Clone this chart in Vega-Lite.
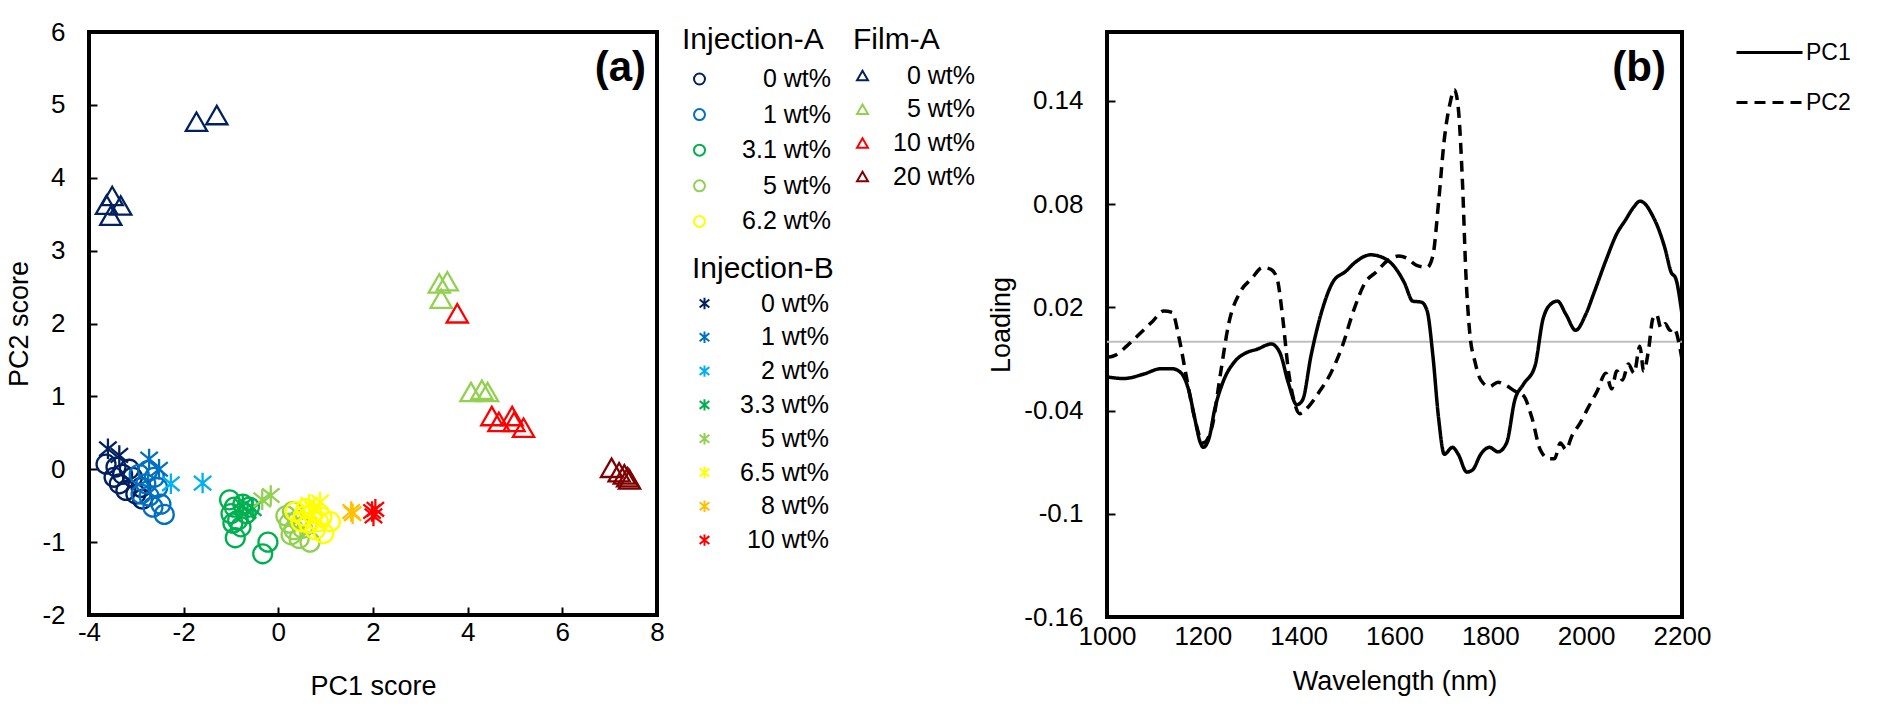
{
  "$schema": "https://vega.github.io/schema/vega-lite/v6.json",
  "background": "white",
  "padding": {"left": 3, "top": 17, "right": 0, "bottom": 0},
  "datasets": {
    "scores": [
      {"s": "Injection-A", "c": "0 wt%", "x": -3.64, "y": 0.07},
      {"s": "Injection-A", "c": "0 wt%", "x": -3.43, "y": 0.03},
      {"s": "Injection-A", "c": "0 wt%", "x": -3.29, "y": -0.07},
      {"s": "Injection-A", "c": "0 wt%", "x": -3.36, "y": -0.2},
      {"s": "Injection-A", "c": "0 wt%", "x": -3.22, "y": -0.29},
      {"s": "Injection-A", "c": "0 wt%", "x": -3.08, "y": -0.11},
      {"s": "Injection-A", "c": "0 wt%", "x": -3.01, "y": -0.34},
      {"s": "Injection-A", "c": "0 wt%", "x": -2.87, "y": -0.41},
      {"s": "Injection-A", "c": "0 wt%", "x": -3.15, "y": 0.0},
      {"s": "Injection-A", "c": "0 wt%", "x": -2.9, "y": -0.25},
      {"s": "Injection-A", "c": "0 wt%", "x": -3.47, "y": -0.11},
      {"s": "Injection-A", "c": "1 wt%", "x": -2.94, "y": -0.07},
      {"s": "Injection-A", "c": "1 wt%", "x": -2.76, "y": -0.02},
      {"s": "Injection-A", "c": "1 wt%", "x": -2.62, "y": -0.11},
      {"s": "Injection-A", "c": "1 wt%", "x": -2.8, "y": -0.2},
      {"s": "Injection-A", "c": "1 wt%", "x": -2.55, "y": -0.25},
      {"s": "Injection-A", "c": "1 wt%", "x": -2.73, "y": -0.37},
      {"s": "Injection-A", "c": "1 wt%", "x": -2.48, "y": -0.48},
      {"s": "Injection-A", "c": "1 wt%", "x": -2.41, "y": -0.62},
      {"s": "Injection-A", "c": "1 wt%", "x": -2.65, "y": -0.52},
      {"s": "Injection-A", "c": "1 wt%", "x": -2.9, "y": -0.34},
      {"s": "Injection-A", "c": "3.1 wt%", "x": -1.03, "y": -0.42},
      {"s": "Injection-A", "c": "3.1 wt%", "x": -0.93, "y": -0.52},
      {"s": "Injection-A", "c": "3.1 wt%", "x": -0.75, "y": -0.48},
      {"s": "Injection-A", "c": "3.1 wt%", "x": -1.0, "y": -0.61},
      {"s": "Injection-A", "c": "3.1 wt%", "x": -0.68, "y": -0.61},
      {"s": "Injection-A", "c": "3.1 wt%", "x": -0.86, "y": -0.7},
      {"s": "Injection-A", "c": "3.1 wt%", "x": -0.79, "y": -0.79},
      {"s": "Injection-A", "c": "3.1 wt%", "x": -0.96, "y": -0.74},
      {"s": "Injection-A", "c": "3.1 wt%", "x": -0.91, "y": -0.94},
      {"s": "Injection-A", "c": "3.1 wt%", "x": -0.22, "y": -1.0},
      {"s": "Injection-A", "c": "3.1 wt%", "x": -0.33, "y": -1.16},
      {"s": "Injection-A", "c": "3.1 wt%", "x": -0.61, "y": -0.52},
      {"s": "Injection-A", "c": "5 wt%", "x": 0.16, "y": -0.64},
      {"s": "Injection-A", "c": "5 wt%", "x": 0.23, "y": -0.74},
      {"s": "Injection-A", "c": "5 wt%", "x": 0.33, "y": -0.83},
      {"s": "Injection-A", "c": "5 wt%", "x": 0.44, "y": -0.95},
      {"s": "Injection-A", "c": "5 wt%", "x": 0.41, "y": -0.7},
      {"s": "Injection-A", "c": "5 wt%", "x": 0.51, "y": -0.81},
      {"s": "Injection-A", "c": "5 wt%", "x": 0.3, "y": -0.58},
      {"s": "Injection-A", "c": "5 wt%", "x": 0.62, "y": -0.74},
      {"s": "Injection-A", "c": "5 wt%", "x": 0.27, "y": -0.9},
      {"s": "Injection-A", "c": "5 wt%", "x": 0.67, "y": -1.0},
      {"s": "Injection-A", "c": "6.2 wt%", "x": 0.36, "y": -0.58},
      {"s": "Injection-A", "c": "6.2 wt%", "x": 0.53, "y": -0.64},
      {"s": "Injection-A", "c": "6.2 wt%", "x": 0.71, "y": -0.61},
      {"s": "Injection-A", "c": "6.2 wt%", "x": 0.85, "y": -0.72},
      {"s": "Injection-A", "c": "6.2 wt%", "x": 0.64, "y": -0.74},
      {"s": "Injection-A", "c": "6.2 wt%", "x": 0.78, "y": -0.83},
      {"s": "Injection-A", "c": "6.2 wt%", "x": 0.92, "y": -0.66},
      {"s": "Injection-A", "c": "6.2 wt%", "x": 0.48, "y": -0.72},
      {"s": "Injection-A", "c": "6.2 wt%", "x": 0.59, "y": -0.54},
      {"s": "Injection-A", "c": "6.2 wt%", "x": 1.1, "y": -0.72},
      {"s": "Injection-A", "c": "6.2 wt%", "x": 0.96, "y": -0.88},
      {"s": "Injection-B", "c": "0 wt%", "x": -3.6, "y": 0.28},
      {"s": "Injection-B", "c": "0 wt%", "x": -3.36, "y": 0.19},
      {"s": "Injection-B", "c": "1 wt%", "x": -2.73, "y": 0.14},
      {"s": "Injection-B", "c": "1 wt%", "x": -2.52, "y": 0.0},
      {"s": "Injection-B", "c": "2 wt%", "x": -2.27, "y": -0.2},
      {"s": "Injection-B", "c": "2 wt%", "x": -1.6, "y": -0.19},
      {"s": "Injection-B", "c": "3.3 wt%", "x": -0.75, "y": -0.5},
      {"s": "Injection-B", "c": "3.3 wt%", "x": -0.65, "y": -0.58},
      {"s": "Injection-B", "c": "3.3 wt%", "x": -0.54, "y": -0.54},
      {"s": "Injection-B", "c": "5 wt%", "x": -0.34, "y": -0.42},
      {"s": "Injection-B", "c": "5 wt%", "x": -0.16, "y": -0.36},
      {"s": "Injection-B", "c": "6.5 wt%", "x": 0.65, "y": -0.48},
      {"s": "Injection-B", "c": "6.5 wt%", "x": 0.88, "y": -0.45},
      {"s": "Injection-B", "c": "6.5 wt%", "x": 0.75, "y": -0.55},
      {"s": "Injection-B", "c": "8 wt%", "x": 1.54, "y": -0.58},
      {"s": "Injection-B", "c": "8 wt%", "x": 1.57, "y": -0.61},
      {"s": "Injection-B", "c": "10 wt%", "x": 1.98, "y": -0.58},
      {"s": "Injection-B", "c": "10 wt%", "x": 2.05, "y": -0.55},
      {"s": "Injection-B", "c": "10 wt%", "x": 2.01, "y": -0.64},
      {"s": "Film-A", "c": "0 wt%", "x": -1.73, "y": 4.77},
      {"s": "Film-A", "c": "0 wt%", "x": -1.3, "y": 4.86},
      {"s": "Film-A", "c": "0 wt%", "x": -3.51, "y": 3.75},
      {"s": "Film-A", "c": "0 wt%", "x": -3.63, "y": 3.63},
      {"s": "Film-A", "c": "0 wt%", "x": -3.33, "y": 3.62},
      {"s": "Film-A", "c": "0 wt%", "x": -3.54, "y": 3.48},
      {"s": "Film-A", "c": "5 wt%", "x": 3.4, "y": 2.55},
      {"s": "Film-A", "c": "5 wt%", "x": 3.57, "y": 2.58},
      {"s": "Film-A", "c": "5 wt%", "x": 3.44, "y": 2.34},
      {"s": "Film-A", "c": "5 wt%", "x": 4.07, "y": 1.06},
      {"s": "Film-A", "c": "5 wt%", "x": 4.3, "y": 1.09},
      {"s": "Film-A", "c": "5 wt%", "x": 4.42, "y": 1.06},
      {"s": "Film-A", "c": "10 wt%", "x": 3.78, "y": 2.14},
      {"s": "Film-A", "c": "10 wt%", "x": 4.51, "y": 0.73},
      {"s": "Film-A", "c": "10 wt%", "x": 4.66, "y": 0.65},
      {"s": "Film-A", "c": "10 wt%", "x": 4.94, "y": 0.73},
      {"s": "Film-A", "c": "10 wt%", "x": 4.98, "y": 0.65},
      {"s": "Film-A", "c": "10 wt%", "x": 5.18, "y": 0.57},
      {"s": "Film-A", "c": "20 wt%", "x": 7.04, "y": 0.02},
      {"s": "Film-A", "c": "20 wt%", "x": 7.2, "y": -0.04},
      {"s": "Film-A", "c": "20 wt%", "x": 7.31, "y": -0.07},
      {"s": "Film-A", "c": "20 wt%", "x": 7.38, "y": -0.11},
      {"s": "Film-A", "c": "20 wt%", "x": 7.42, "y": -0.14}
    ],
    "loadings": [
      {"pc": "PC1", "w": 1000, "v": -0.0204},
      {"pc": "PC1", "w": 1035, "v": -0.0214},
      {"pc": "PC1", "w": 1077, "v": -0.0188},
      {"pc": "PC1", "w": 1112, "v": -0.0157},
      {"pc": "PC1", "w": 1136, "v": -0.0157},
      {"pc": "PC1", "w": 1154, "v": -0.018},
      {"pc": "PC1", "w": 1171, "v": -0.0287},
      {"pc": "PC1", "w": 1183, "v": -0.0444},
      {"pc": "PC1", "w": 1195, "v": -0.0588},
      {"pc": "PC1", "w": 1201, "v": -0.0614},
      {"pc": "PC1", "w": 1213, "v": -0.056},
      {"pc": "PC1", "w": 1225, "v": -0.039},
      {"pc": "PC1", "w": 1242, "v": -0.0235},
      {"pc": "PC1", "w": 1266, "v": -0.0117},
      {"pc": "PC1", "w": 1290, "v": -0.0065},
      {"pc": "PC1", "w": 1313, "v": -0.0044},
      {"pc": "PC1", "w": 1343, "v": -0.0013},
      {"pc": "PC1", "w": 1361, "v": -0.0065},
      {"pc": "PC1", "w": 1378, "v": -0.0235},
      {"pc": "PC1", "w": 1396, "v": -0.0366},
      {"pc": "PC1", "w": 1408, "v": -0.034},
      {"pc": "PC1", "w": 1426, "v": -0.0078},
      {"pc": "PC1", "w": 1449, "v": 0.0184},
      {"pc": "PC1", "w": 1473, "v": 0.0354},
      {"pc": "PC1", "w": 1497, "v": 0.0406},
      {"pc": "PC1", "w": 1520, "v": 0.0466},
      {"pc": "PC1", "w": 1550, "v": 0.0505},
      {"pc": "PC1", "w": 1573, "v": 0.0492},
      {"pc": "PC1", "w": 1597, "v": 0.0445},
      {"pc": "PC1", "w": 1621, "v": 0.034},
      {"pc": "PC1", "w": 1638, "v": 0.0236},
      {"pc": "PC1", "w": 1656, "v": 0.023},
      {"pc": "PC1", "w": 1668, "v": 0.018},
      {"pc": "PC1", "w": 1680, "v": -0.0078},
      {"pc": "PC1", "w": 1692, "v": -0.0444},
      {"pc": "PC1", "w": 1704, "v": -0.0654},
      {"pc": "PC1", "w": 1721, "v": -0.0614},
      {"pc": "PC1", "w": 1733, "v": -0.0654},
      {"pc": "PC1", "w": 1751, "v": -0.0758},
      {"pc": "PC1", "w": 1763, "v": -0.0745},
      {"pc": "PC1", "w": 1780, "v": -0.0654},
      {"pc": "PC1", "w": 1798, "v": -0.0614},
      {"pc": "PC1", "w": 1816, "v": -0.064},
      {"pc": "PC1", "w": 1834, "v": -0.0588},
      {"pc": "PC1", "w": 1851, "v": -0.034},
      {"pc": "PC1", "w": 1869, "v": -0.0248},
      {"pc": "PC1", "w": 1893, "v": -0.0143},
      {"pc": "PC1", "w": 1910, "v": 0.0132},
      {"pc": "PC1", "w": 1928, "v": 0.0223},
      {"pc": "PC1", "w": 1940, "v": 0.0236},
      {"pc": "PC1", "w": 1958, "v": 0.0158},
      {"pc": "PC1", "w": 1978, "v": 0.0066},
      {"pc": "PC1", "w": 1999, "v": 0.0158},
      {"pc": "PC1", "w": 2017, "v": 0.0289},
      {"pc": "PC1", "w": 2041, "v": 0.0471},
      {"pc": "PC1", "w": 2064, "v": 0.0628},
      {"pc": "PC1", "w": 2082, "v": 0.0707},
      {"pc": "PC1", "w": 2100, "v": 0.0785},
      {"pc": "PC1", "w": 2112, "v": 0.0817},
      {"pc": "PC1", "w": 2124, "v": 0.0798},
      {"pc": "PC1", "w": 2136, "v": 0.0746},
      {"pc": "PC1", "w": 2153, "v": 0.0641},
      {"pc": "PC1", "w": 2165, "v": 0.0537},
      {"pc": "PC1", "w": 2177, "v": 0.0406},
      {"pc": "PC1", "w": 2187, "v": 0.0367},
      {"pc": "PC1", "w": 2200, "v": 0.0158},
      {"pc": "PC2", "w": 1000, "v": -0.0091},
      {"pc": "PC2", "w": 1018, "v": -0.0078},
      {"pc": "PC2", "w": 1041, "v": -0.0026},
      {"pc": "PC2", "w": 1071, "v": 0.0053},
      {"pc": "PC2", "w": 1095, "v": 0.0118},
      {"pc": "PC2", "w": 1118, "v": 0.0178},
      {"pc": "PC2", "w": 1136, "v": 0.017},
      {"pc": "PC2", "w": 1150, "v": 0.0027},
      {"pc": "PC2", "w": 1166, "v": -0.0209},
      {"pc": "PC2", "w": 1183, "v": -0.0444},
      {"pc": "PC2", "w": 1201, "v": -0.0588},
      {"pc": "PC2", "w": 1219, "v": -0.0496},
      {"pc": "PC2", "w": 1237, "v": -0.0183},
      {"pc": "PC2", "w": 1254, "v": 0.0105},
      {"pc": "PC2", "w": 1278, "v": 0.0289},
      {"pc": "PC2", "w": 1302, "v": 0.0367},
      {"pc": "PC2", "w": 1325, "v": 0.0432},
      {"pc": "PC2", "w": 1343, "v": 0.0419},
      {"pc": "PC2", "w": 1355, "v": 0.0367},
      {"pc": "PC2", "w": 1367, "v": 0.0132},
      {"pc": "PC2", "w": 1378, "v": -0.0157},
      {"pc": "PC2", "w": 1390, "v": -0.034},
      {"pc": "PC2", "w": 1402, "v": -0.0418},
      {"pc": "PC2", "w": 1420, "v": -0.0379},
      {"pc": "PC2", "w": 1444, "v": -0.0287},
      {"pc": "PC2", "w": 1467, "v": -0.0183},
      {"pc": "PC2", "w": 1491, "v": -0.0026},
      {"pc": "PC2", "w": 1515, "v": 0.0184},
      {"pc": "PC2", "w": 1538, "v": 0.034},
      {"pc": "PC2", "w": 1562, "v": 0.0406},
      {"pc": "PC2", "w": 1586, "v": 0.0472},
      {"pc": "PC2", "w": 1609, "v": 0.0498},
      {"pc": "PC2", "w": 1627, "v": 0.0484},
      {"pc": "PC2", "w": 1645, "v": 0.0445},
      {"pc": "PC2", "w": 1668, "v": 0.0432},
      {"pc": "PC2", "w": 1680, "v": 0.0498},
      {"pc": "PC2", "w": 1692, "v": 0.0811},
      {"pc": "PC2", "w": 1704, "v": 0.1178},
      {"pc": "PC2", "w": 1716, "v": 0.1387},
      {"pc": "PC2", "w": 1725, "v": 0.1465},
      {"pc": "PC2", "w": 1733, "v": 0.1361},
      {"pc": "PC2", "w": 1742, "v": 0.0916},
      {"pc": "PC2", "w": 1749, "v": 0.0393},
      {"pc": "PC2", "w": 1757, "v": 0.0053},
      {"pc": "PC2", "w": 1768, "v": -0.0117},
      {"pc": "PC2", "w": 1780, "v": -0.0222},
      {"pc": "PC2", "w": 1798, "v": -0.0261},
      {"pc": "PC2", "w": 1816, "v": -0.0235},
      {"pc": "PC2", "w": 1834, "v": -0.0256},
      {"pc": "PC2", "w": 1851, "v": -0.0287},
      {"pc": "PC2", "w": 1869, "v": -0.0313},
      {"pc": "PC2", "w": 1887, "v": -0.0444},
      {"pc": "PC2", "w": 1904, "v": -0.0627},
      {"pc": "PC2", "w": 1922, "v": -0.068},
      {"pc": "PC2", "w": 1934, "v": -0.068},
      {"pc": "PC2", "w": 1946, "v": -0.0588},
      {"pc": "PC2", "w": 1958, "v": -0.0627},
      {"pc": "PC2", "w": 1970, "v": -0.0549},
      {"pc": "PC2", "w": 1988, "v": -0.047},
      {"pc": "PC2", "w": 2005, "v": -0.0379},
      {"pc": "PC2", "w": 2023, "v": -0.0287},
      {"pc": "PC2", "w": 2041, "v": -0.0183},
      {"pc": "PC2", "w": 2053, "v": -0.0274},
      {"pc": "PC2", "w": 2064, "v": -0.017},
      {"pc": "PC2", "w": 2076, "v": -0.0222},
      {"pc": "PC2", "w": 2088, "v": -0.013},
      {"pc": "PC2", "w": 2100, "v": -0.0183},
      {"pc": "PC2", "w": 2112, "v": -0.0026},
      {"pc": "PC2", "w": 2120, "v": -0.017},
      {"pc": "PC2", "w": 2130, "v": -0.0052},
      {"pc": "PC2", "w": 2139, "v": 0.0132},
      {"pc": "PC2", "w": 2147, "v": 0.0158},
      {"pc": "PC2", "w": 2156, "v": 0.0079},
      {"pc": "PC2", "w": 2165, "v": 0.0105},
      {"pc": "PC2", "w": 2175, "v": 0.0066},
      {"pc": "PC2", "w": 2183, "v": 0.0079},
      {"pc": "PC2", "w": 2195, "v": -0.0026},
      {"pc": "PC2", "w": 2200, "v": -0.0104}
    ],
    "tagsA": [{"t": "(a)"}],
    "tagsB": [{"t": "(b)"}],
    "zero": [{"z": 0}]
  },
  "hconcat": [
    {
      "width": 568,
      "height": 583,
      "layer": [
        {
          "data": {"name": "scores"},
          "transform": [{"filter": "datum.s === 'Injection-A'"}],
          "mark": {"type": "point", "shape": "circle", "filled": false, "size": 360, "strokeWidth": 2.3, "opacity": 1},
          "encoding": {
            "x": {"field": "x", "type": "quantitative", "scale": {"domain": [-4, 8], "nice": false, "zero": false},
              "axis": {"values": [-4, -2, 0, 2, 4, 6, 8], "title": "PC1 score", "tickSize": -8, "labelPadding": 12, "titlePadding": 28, "labelFlush": false, "labelOverlap": false, "format": "~g", "labelExpr": "replace(datum.label, '\u2212', '-')"}},
            "y": {"field": "y", "type": "quantitative", "scale": {"domain": [-2, 6], "nice": false, "zero": false},
              "axis": {"values": [-2, -1, 0, 1, 2, 3, 4, 5, 6], "title": "PC2 score", "tickSize": -8, "labelPadding": 32, "titlePadding": 8, "labelFlush": false, "labelOverlap": false, "format": "~g", "labelExpr": "replace(datum.label, '\u2212', '-')"}},
            "color": {"field": "c", "type": "nominal",
              "scale": {"domain": ["0 wt%", "1 wt%", "3.1 wt%", "5 wt%", "6.2 wt%"], "range": ["#002060", "#0070C0", "#00B050", "#92D050", "#FFFF00"]},
              "legend": {"title": "Injection-A", "orient": "none", "legendX": 593, "legendY": -7, "symbolType": "circle", "symbolSize": 120, "symbolStrokeWidth": 2, "symbolOffset": 5, "labelAlign": "right", "labelOffset": 119, "rowPadding": 9.6, "titlePadding": 11.5}}
          }
        },
        {
          "data": {"name": "scores"},
          "transform": [{"filter": "datum.s === 'Injection-B'"}],
          "mark": {"type": "point", "shape": "M0,-1L0,1M-0.85,-0.7L0.85,0.7M-0.85,0.7L0.85,-0.7", "filled": false, "size": 420, "strokeWidth": 2.3, "opacity": 1},
          "encoding": {
            "x": {"field": "x", "type": "quantitative"},
            "y": {"field": "y", "type": "quantitative"},
            "color": {"field": "c", "type": "nominal",
              "scale": {"domain": ["0 wt%", "1 wt%", "2 wt%", "3.3 wt%", "5 wt%", "6.5 wt%", "8 wt%", "10 wt%"], "range": ["#002060", "#0070C0", "#00B0F0", "#00B050", "#92D050", "#FFFF00", "#FFC000", "#FF0000"]},
              "legend": {"title": "Injection-B", "orient": "none", "legendX": 603, "legendY": 222, "symbolType": "M0,-1L0,1M-0.85,-0.7L0.85,0.7M-0.85,0.7L0.85,-0.7", "symbolSize": 130, "symbolStrokeWidth": 2, "symbolOffset": 0, "labelAlign": "right", "labelOffset": 112, "rowPadding": 7.8, "titlePadding": 7}}
          }
        },
        {
          "data": {"name": "scores"},
          "transform": [{"filter": "datum.s === 'Film-A'"}],
          "mark": {"type": "point", "shape": "triangle-up", "filled": false, "size": 450, "strokeWidth": 2.3, "opacity": 1},
          "encoding": {
            "x": {"field": "x", "type": "quantitative"},
            "y": {"field": "y", "type": "quantitative"},
            "color": {"field": "c", "type": "nominal",
              "scale": {"domain": ["0 wt%", "5 wt%", "10 wt%", "20 wt%"], "range": ["#002060", "#92D050", "#FF0000", "#7F0000"]},
              "legend": {"title": "Film-A", "orient": "none", "legendX": 764, "legendY": -7, "symbolType": "triangle-up", "symbolSize": 120, "symbolStrokeWidth": 2, "symbolOffset": -3, "labelAlign": "right", "labelOffset": 100, "rowPadding": 7.7, "titlePadding": 8}}
          }
        },
        {
          "data": {"name": "tagsA"},
          "mark": {"type": "text", "align": "right", "baseline": "alphabetic", "dx": -11, "dy": 49, "fontSize": 42, "fontWeight": "bold", "font": "Liberation Sans", "color": "#000"},
          "encoding": {
            "x": {"datum": 8, "type": "quantitative"},
            "y": {"datum": 6, "type": "quantitative"},
            "text": {"field": "t"}
          }
        }
      ],
      "resolve": {"scale": {"color": "independent"}, "legend": {"color": "independent"}}
    },
    {
      "width": 575,
      "height": 585,
      "layer": [
        {
          "data": {"name": "zero"},
          "mark": {"type": "rule", "color": "#BFBFBF", "strokeWidth": 2},
          "encoding": {
            "y": {"field": "z", "type": "quantitative"}
          }
        },
        {
          "data": {"name": "loadings"},
          "mark": {"type": "line", "color": "#000", "strokeWidth": 3.5, "interpolate": "monotone"},
          "encoding": {
            "x": {"field": "w", "type": "quantitative", "scale": {"domain": [1000, 2200], "nice": false, "zero": false},
              "axis": {"values": [1000, 1200, 1400, 1600, 1800, 2000, 2200], "title": "Wavelength (nm)", "ticks": false, "labelPadding": 6, "titlePadding": 19, "labelFlush": false, "labelOverlap": false, "format": "d"}},
            "y": {"field": "v", "type": "quantitative", "scale": {"domain": [-0.16, 0.18], "nice": false, "zero": false},
              "axis": {"values": [-0.16, -0.1, -0.04, 0.02, 0.08, 0.14], "title": "Loading", "tickSize": -8, "labelPadding": 32, "titlePadding": 8, "labelFlush": false, "labelOverlap": false, "format": "~g", "labelExpr": "replace(datum.label, '\u2212', '-')"}},
            "strokeDash": {"field": "pc", "type": "nominal",
              "scale": {"domain": ["PC1", "PC2"], "range": [[1, 0], [11, 7]]},
              "legend": {"title": null, "orient": "none", "legendX": 1646, "legendY": -14, "symbolType": "stroke", "symbolSize": 4356, "symbolStrokeWidth": 3, "symbolStrokeColor": "#000", "labelFontSize": 23, "labelOffset": 2, "rowPadding": 3}}
          }
        },
        {
          "data": {"name": "tagsB"},
          "mark": {"type": "text", "align": "right", "baseline": "alphabetic", "dx": -16, "dy": 49, "fontSize": 42, "fontWeight": "bold", "font": "Liberation Sans", "color": "#000"},
          "encoding": {
            "x": {"datum": 2200, "type": "quantitative"},
            "y": {"datum": 0.18, "type": "quantitative"},
            "text": {"field": "t"}
          }
        }
      ]
    }
  ],
  "spacing": 450,
  "bounds": "flush",
  "config": {
    "font": "Liberation Sans",
    "view": {"stroke": "#000", "strokeWidth": 4},
    "axis": {"domain": false, "grid": false, "labelFont": "Liberation Sans", "labelFontSize": 26, "labelColor": "#000", "titleFont": "Liberation Sans", "titleFontSize": 27, "titleFontWeight": "normal", "titleColor": "#000", "tickColor": "#000", "tickWidth": 2},
    "legend": {"labelFont": "Liberation Sans", "labelFontSize": 25, "labelColor": "#000", "titleFont": "Liberation Sans", "titleFontSize": 30, "titleFontWeight": "normal", "titleColor": "#000", "padding": 0}
  }
}
